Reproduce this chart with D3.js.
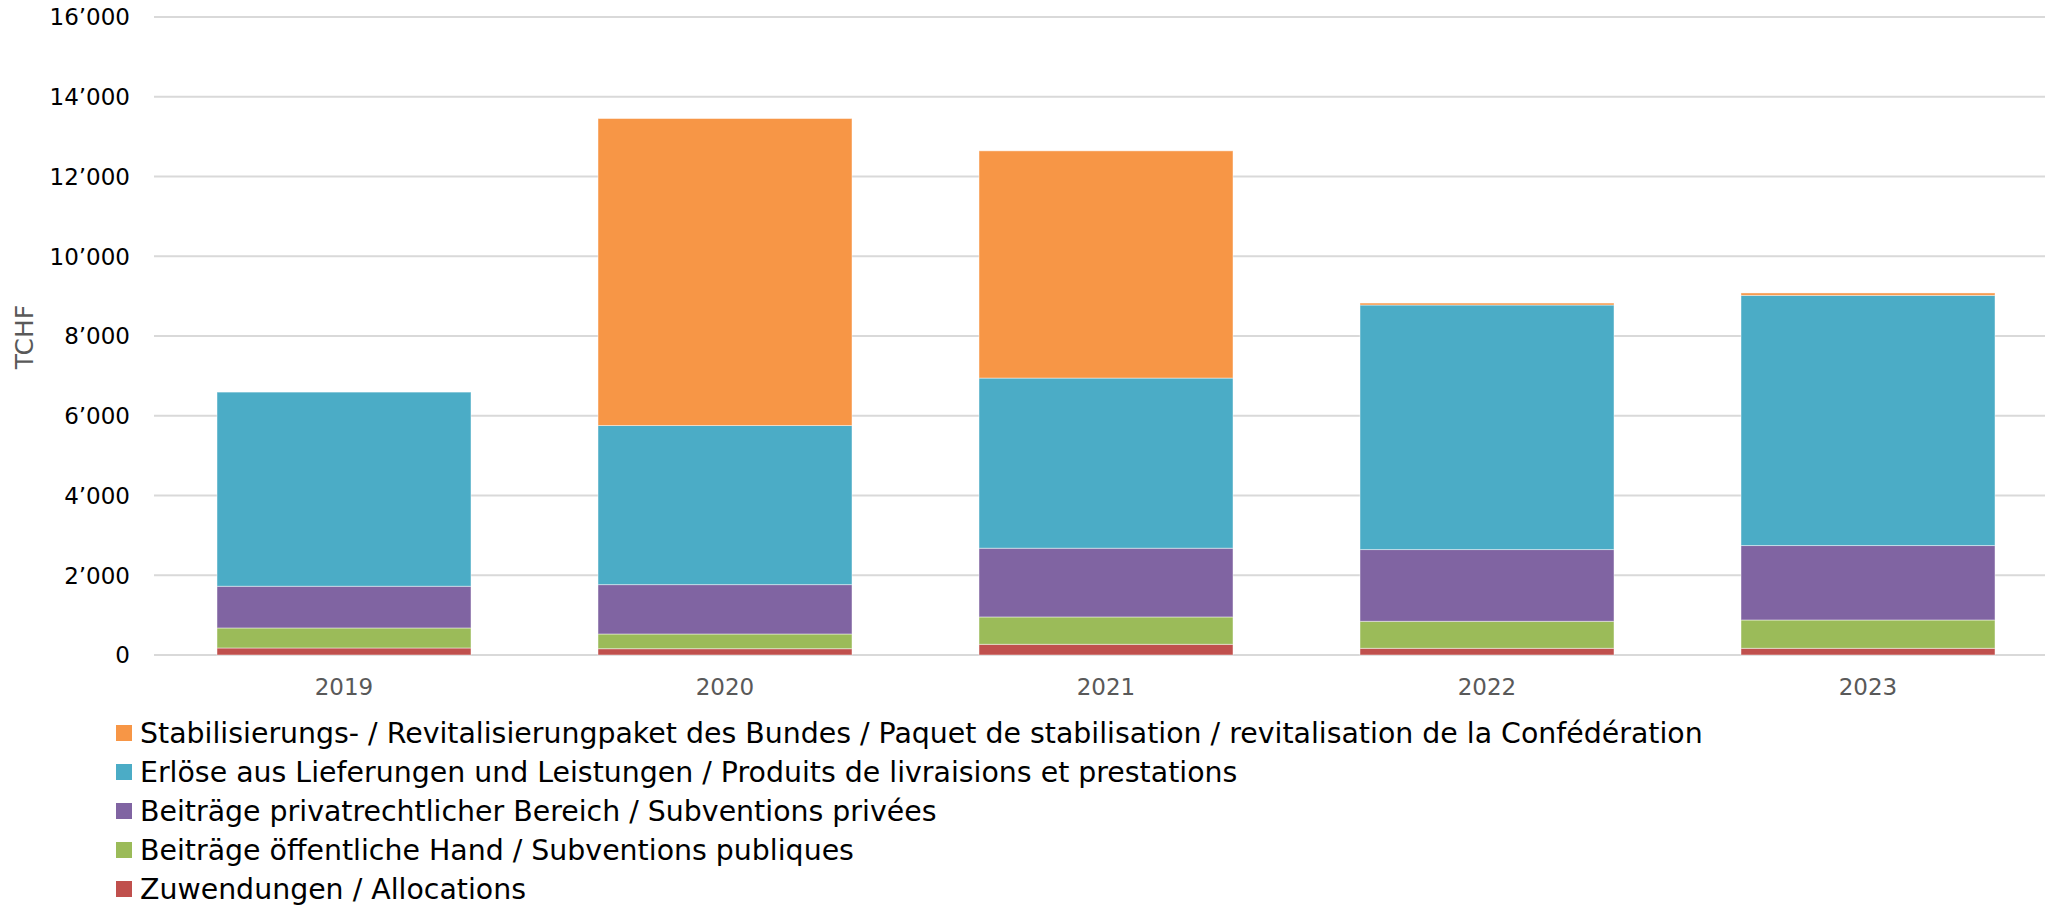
<!DOCTYPE html>
<html>
<head>
<meta charset="utf-8">
<script src="https://cdn.jsdelivr.net/npm/d3@7"></script>
<style>
  html, body { margin: 0; padding: 0; background: #fff; }
  svg { display: block; font-family: "DejaVu Sans", Verdana, sans-serif; }
</style>
</head>
<body>
<div id="chart"></div>
<script>
/* ===== Data (TCHF) ===== */
const years = ['2019', '2020', '2021', '2022', '2023'];

// stack order: bottom -> top
const seriesKeys = ['zuw', 'oeff', 'priv', 'erl', 'stab'];
const seriesLabels = {
  stab: 'Stabilisierungs- / Revitalisierungpaket des Bundes / Paquet de stabilisation / revitalisation de la Confédération',
  erl: 'Erlöse aus Lieferungen und Leistungen / Produits de livraisions et prestations',
  priv: 'Beiträge privatrechtlicher Bereich / Subventions privées',
  oeff: 'Beiträge öffentliche Hand / Subventions publiques',
  zuw: 'Zuwendungen / Allocations'
};
const seriesColors = {
  stab: '#F79646',
  erl: '#4BACC6',
  priv: '#8064A2',
  oeff: '#9BBB59',
  zuw: '#C0504D'
};

const zuwendungen = [176, 158, 268, 168, 168];
const oeffentlich = [502, 369, 686, 677, 710];
const privat = [1046, 1238, 1724, 1799, 1867];
const erloese = [4869, 3990, 4267, 6133, 6274];
const stabilisierung = [0, 7699, 5698, 49, 60];

const yTicks = [0, 2000, 4000, 6000, 8000, 10000, 12000, 14000, 16000];

/* ===== Chart ===== */
const W = 2045, H = 905;

const rows = years.map((y, i) => ({
  year: y,
  zuw: zuwendungen[i],
  oeff: oeffentlich[i],
  priv: privat[i],
  erl: erloese[i],
  stab: stabilisierung[i]
}));

const svg = d3.select('#chart').append('svg')
  .attr('width', W)
  .attr('height', H);

const x = d3.scaleBand()
  .domain(years)
  .range([153.5, 2058.5])
  .paddingInner(1 / 3)
  .paddingOuter(1 / 6);

const y = d3.scaleLinear()
  .domain([0, 16000])
  .range([655, 17]);

const fmt = d3.formatLocale({ decimal: '.', thousands: '’', grouping: [3], currency: ['', ''] }).format(',d');

// gridlines
svg.append('g')
  .selectAll('line')
  .data(yTicks)
  .join('line')
  .attr('x1', 154)
  .attr('x2', W)
  .attr('y1', d => y(d))
  .attr('y2', d => y(d))
  .attr('stroke', '#d9d9d9')
  .attr('stroke-width', 2);

// y tick labels
svg.append('g')
  .selectAll('text')
  .data(yTicks)
  .join('text')
  .attr('x', 130)
  .attr('y', d => y(d))
  .attr('dy', '0.36em')
  .attr('text-anchor', 'end')
  .attr('font-size', 23)
  .attr('fill', '#000')
  .text(d => fmt(d));

// y axis title
svg.append('text')
  .attr('transform', 'translate(33,337) rotate(-90)')
  .attr('text-anchor', 'middle')
  .attr('font-size', 25)
  .attr('fill', '#595959')
  .text('TCHF');

// stacked bars
const stacked = d3.stack().keys(seriesKeys)(rows);

svg.append('g')
  .selectAll('g')
  .data(stacked)
  .join('g')
  .attr('fill', d => seriesColors[d.key])
  .selectAll('rect')
  .data(d => d)
  .join('rect')
  .attr('x', d => x(d.data.year))
  .attr('width', x.bandwidth())
  .attr('y', d => y(d[1]))
  .attr('height', d => y(d[0]) - y(d[1]))
  .attr('stroke', '#fff')
  .attr('stroke-opacity', 0.45)
  .attr('stroke-width', 1);

// x labels
svg.append('g')
  .selectAll('text')
  .data(years)
  .join('text')
  .attr('x', d => x(d) + x.bandwidth() / 2)
  .attr('y', 695)
  .attr('text-anchor', 'middle')
  .attr('font-size', 23)
  .attr('fill', '#595959')
  .text(d => d);

// legend (top series first)
const legendKeys = seriesKeys.slice().reverse();
const legend = svg.append('g')
  .selectAll('g')
  .data(legendKeys)
  .join('g')
  .attr('transform', (d, i) => `translate(116,${733 + i * 39})`);

legend.append('rect')
  .attr('x', 0)
  .attr('y', -8)
  .attr('width', 16)
  .attr('height', 16)
  .attr('fill', d => seriesColors[d]);

legend.append('text')
  .attr('x', 24)
  .attr('y', 0)
  .attr('dy', '0.35em')
  .attr('font-size', 28.4)
  .attr('fill', '#000')
  .text(d => seriesLabels[d]);
</script>
</body>
</html>
